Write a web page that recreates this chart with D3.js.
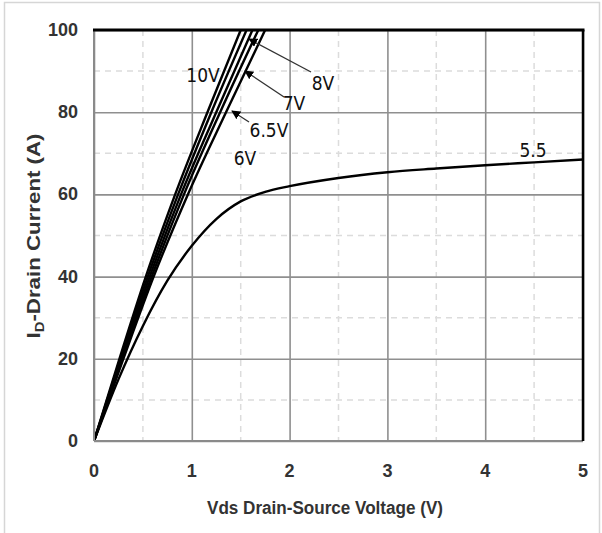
<!DOCTYPE html>
<html><head><meta charset="utf-8">
<script src="https://cdn.jsdelivr.net/npm/d3@7"></script>
<style>body{margin:0;background:#fff;} svg{display:block;}</style>
</head><body>
<svg id="c" width="602" height="533"></svg>
<script>
// ---- data ----
const xTicks = [0, 1, 2, 3, 4, 5];
const yTicks = [0, 20, 40, 60, 80, 100];
const currentLevels = [0, 20, 40, 60, 80, 100];          // I_D (A)
const vds10V  = [0, 0.26, 0.53, 0.83, 1.16, 1.50];        // Vds at each current level
const vds8V   = [0, 0.27, 0.55, 0.86, 1.20, 1.56];
const vds7V   = [0, 0.28, 0.57, 0.89, 1.25, 1.62];
const vds65V  = [0, 0.29, 0.59, 0.92, 1.29, 1.68];
const vds6V   = [0, 0.30, 0.61, 0.96, 1.35, 1.75];
const vds55   = [0, 0.25, 0.5, 0.75, 1.0, 1.25, 1.5, 1.75, 2.0, 2.5, 3.0, 3.5, 4.0, 4.5, 5.0];
const id55    = [0, 15, 28, 39, 47.5, 54, 58.3, 60.6, 62, 64, 65.4, 66.3, 67.1, 67.8, 68.5];

const seriesLabels = ["10V", "8V", "7V", "6.5V", "6V", "5.5"];

// ---- layout ----
const svg = d3.select("#c");
const L = 94, R = 583, T = 30, B = 441;
const x = d3.scaleLinear().domain([0, 5]).range([L, R]);
const y = d3.scaleLinear().domain([0, 100]).range([B, T]);
const FONT = "Liberation Sans, Arial, sans-serif";

// outer frame
svg.append("path").attr("d", `M4.5,533 V2.5 H599.5 V533`).attr("fill", "none")
  .attr("stroke", "#d6d6d6").attr("stroke-width", 1.5);

// minor grid (dashed)
const g = svg.append("g");
d3.range(0.5, 5, 1).forEach(v => g.append("line").attr("x1", x(v)).attr("x2", x(v)).attr("y1", T).attr("y2", B)
  .attr("stroke", "#dcdcdc").attr("stroke-width", 1.5).attr("stroke-dasharray", "6,5"));
d3.range(10, 100, 20).forEach(v => g.append("line").attr("y1", y(v)).attr("y2", y(v)).attr("x1", L).attr("x2", R)
  .attr("stroke", "#dcdcdc").attr("stroke-width", 1.5).attr("stroke-dasharray", "6,5"));

// major grid via axes
svg.append("g").attr("transform", `translate(0,${B})`)
  .call(d3.axisBottom(x).tickValues(xTicks).tickSize(-(B - T)).tickFormat(""))
  .call(a => a.select(".domain").remove())
  .call(a => a.selectAll("line").attr("stroke", "#8f8f8f").attr("stroke-width", 1.6));
svg.append("g").attr("transform", `translate(${L},0)`)
  .call(d3.axisLeft(y).tickValues(yTicks).tickSize(-(R - L)).tickFormat(""))
  .call(a => a.select(".domain").remove())
  .call(a => a.selectAll("line").attr("stroke", "#8f8f8f").attr("stroke-width", 1.6));

// tick labels
svg.append("g").selectAll("text").data(xTicks).join("text")
  .attr("x", d => x(d)).attr("y", 477).attr("text-anchor", "middle")
  .attr("font-family", FONT).attr("font-weight", "bold")
  .attr("font-size", 18).attr("fill", "#333").text(d => d);
svg.append("g").selectAll("text").data(yTicks).join("text")
  .attr("x", 78).attr("y", d => y(d) + 6).attr("text-anchor", "end")
  .attr("font-family", FONT).attr("font-weight", "bold")
  .attr("font-size", 18).attr("fill", "#333").text(d => d);

// axis titles
svg.append("text").attr("x", 325).attr("y", 514).attr("text-anchor", "middle")
  .attr("font-family", FONT).attr("font-weight", "bold")
  .attr("font-size", 18).attr("fill", "#333")
  .attr("textLength", 236).attr("lengthAdjust", "spacingAndGlyphs")
  .text("Vds Drain-Source Voltage (V)");
const yt = svg.append("text").attr("transform", "translate(40,236) rotate(-90)").attr("text-anchor", "middle")
  .attr("font-family", FONT).attr("font-weight", "bold")
  .attr("font-size", 18).attr("fill", "#333")
  .attr("textLength", 205).attr("lengthAdjust", "spacingAndGlyphs");
yt.append("tspan").text("I");
yt.append("tspan").attr("font-size", 12).attr("dy", 4).text("D");
yt.append("tspan").attr("dy", -4).text("-Drain Current (A)");

// curves
svg.append("clipPath").attr("id", "clip").append("rect").attr("x", L).attr("y", T).attr("width", R - L).attr("height", B - T);
const line = d3.line().x(d => x(d[0])).y(d => y(d[1])).curve(d3.curveMonotoneX);
const steep = [vds10V, vds8V, vds7V, vds65V, vds6V].map(v => v.map((vv, i) => [vv, currentLevels[i]]));
const all = steep.concat([vds55.map((v, i) => [v, id55[i]])]);
svg.append("g").attr("clip-path", "url(#clip)").selectAll("path").data(all).join("path")
  .attr("d", line).attr("fill", "none").attr("stroke", "#000").attr("stroke-width", 2.4);

// plot borders
svg.append("line").attr("x1", L).attr("x2", L).attr("y1", T).attr("y2", B).attr("stroke", "#8a8a8a").attr("stroke-width", 2);
svg.append("line").attr("x1", L).attr("x2", R).attr("y1", B).attr("y2", B).attr("stroke", "#8a8a8a").attr("stroke-width", 2);
svg.append("line").attr("x1", L - 1).attr("x2", R + 1.5).attr("y1", T).attr("y2", T).attr("stroke", "#000").attr("stroke-width", 3);
svg.append("line").attr("x1", R).attr("x2", R).attr("y1", T).attr("y2", B).attr("stroke", "#000").attr("stroke-width", 2.5);

// arrows
const defs = svg.append("defs");
defs.append("marker").attr("id", "ah").attr("viewBox", "0 0 10 10").attr("refX", 9).attr("refY", 5)
  .attr("markerWidth", 9).attr("markerHeight", 9).attr("markerUnits", "userSpaceOnUse").attr("orient", "auto")
  .append("path").attr("d", "M0,0 L10,5 L0,10 Z").attr("fill", "#000");
const arrows = [
  {from: [311, 72], to: [249, 39]},
  {from: [284, 97], to: [245, 71]},
  {from: [249, 122], to: [232, 111]}
];
svg.append("g").selectAll("line").data(arrows).join("line")
  .attr("x1", d => d.from[0]).attr("y1", d => d.from[1]).attr("x2", d => d.to[0]).attr("y2", d => d.to[1])
  .attr("stroke", "#333").attr("stroke-width", 1.3).attr("marker-end", "url(#ah)");

// curve labels
const labelPos = [[203, 82], [323, 90], [294, 110], [269, 137], [245, 165], [533, 157]];
svg.append("g").selectAll("text").data(seriesLabels).join("text")
  .attr("x", (d, i) => labelPos[i][0]).attr("y", (d, i) => labelPos[i][1]).attr("text-anchor", "middle")
  .attr("font-family", "Liberation Sans Narrow, DejaVu Sans Condensed, Arial, sans-serif")
  .attr("font-size", 19).attr("fill", "#111").text(d => d);
</script>
</body></html>
